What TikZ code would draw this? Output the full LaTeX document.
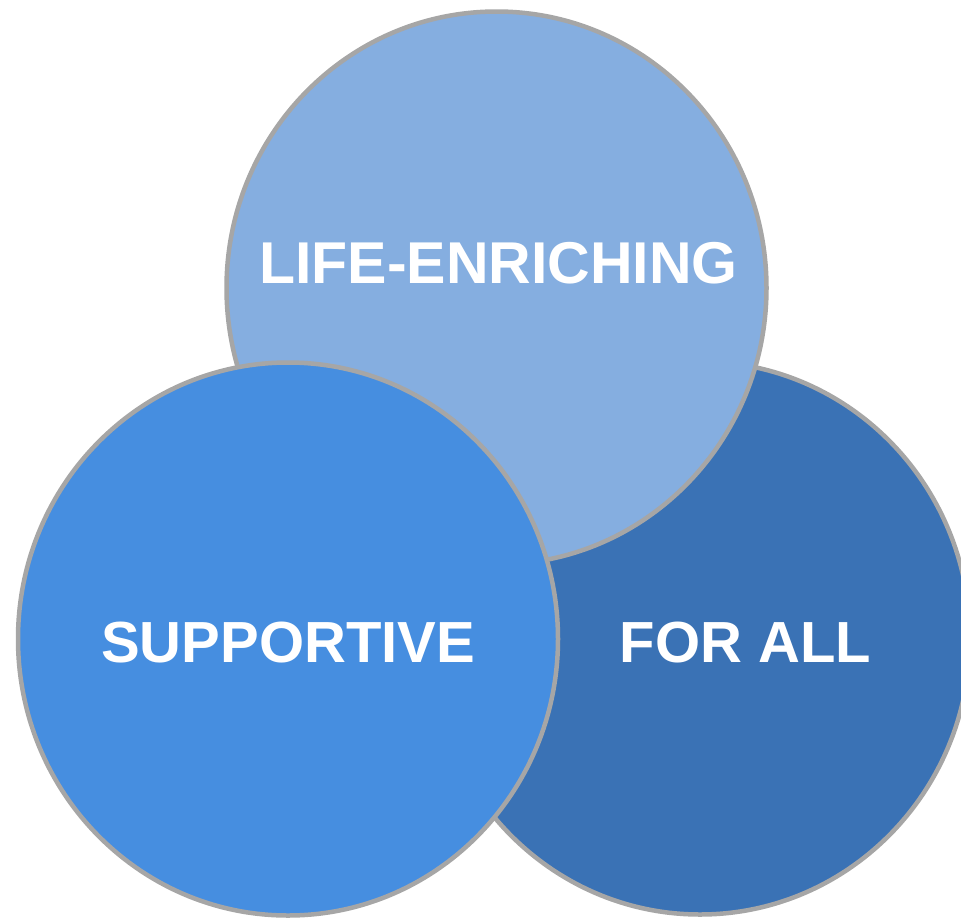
\documentclass[tikz,border=0pt]{standalone}
\usepackage{fontspec}
\setmainfont{Liberation Sans}
\usetikzlibrary{shapes.geometric}
\definecolor{lightblue}{HTML}{85AEE0}
\definecolor{midblue}{HTML}{468EE0}
\definecolor{darkblue}{HTML}{3A72B5}
\definecolor{rimgrey}{HTML}{A6A6A6}
\tikzset{
  bubble/.style={ellipse, draw=rimgrey, line width=4.5pt, inner sep=0pt,
    minimum width=540pt, minimum height=553pt},
  lbl/.style={text=white, font=\fontsize{58}{60}\selectfont\bfseries, anchor=base, inner sep=0pt}
}
\begin{document}
\begin{tikzpicture}[x=1pt, y=-1pt]
\useasboundingbox (0,0) rectangle (961,921);
\node[bubble, fill=darkblue] (forall) at (700,638) {};
\node[bubble, fill=lightblue] (life) at (496.5,288) {};
\node[bubble, fill=midblue] (supp) at (288,639) {};
\node[lbl, font=\fontsize{59}{60}\selectfont\bfseries] (tlife) at (498.5,283) {LIFE-ENRICHING};
\node[lbl] (tsupp) at (288,662) {SUPPORTIVE};
\node[lbl] (tfor) at (745.5,662) {FOR ALL};
\end{tikzpicture}
\end{document}
